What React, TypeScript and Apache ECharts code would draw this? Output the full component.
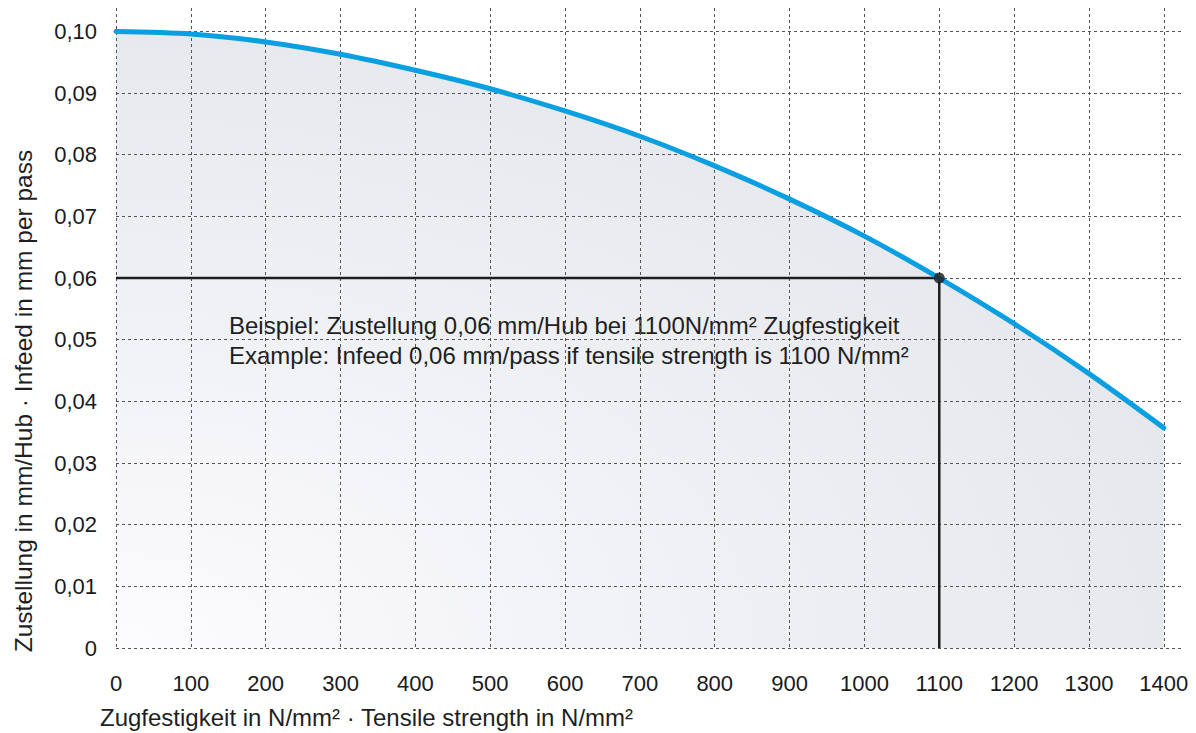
import React, { useEffect, useRef } from "react";
import * as echarts from "echarts";

const strength = [0, 100, 200, 300, 400, 500, 600, 700, 800, 900, 1000, 1100, 1200, 1300, 1400];
const infeed = [0.1, 0.0996, 0.0983, 0.0963, 0.0937, 0.0907, 0.0871, 0.083, 0.0782, 0.0728, 0.0668, 0.06, 0.0526, 0.0445, 0.0357];
const exampleX = 1100;
const exampleY = 0.06;
const xName = "Zugfestigkeit in N/mm² · Tensile strength in N/mm²";
const yName = "Zustellung in mm/Hub · Infeed in mm per pass";
const noteLines = [
  "Beispiel: Zustellung 0,06 mm/Hub bei 1100N/mm² Zugfestigkeit",
  "Example: Infeed 0,06 mm/pass if tensile strength is 1100 N/mm²",
];

const FONT = "'Liberation Sans', Arial, Helvetica, sans-serif";

export default function App() {
  const ref = useRef<HTMLDivElement>(null);
  useEffect(() => {
    if (!ref.current) return;
    const chart = echarts.init(ref.current, null, { renderer: "svg" });
    const curve = strength.map((x, i) => [x, infeed[i]]);
    const gridLine = {
      show: true,
      showMaxLine: false,
      lineStyle: { color: "#555555", width: 1, type: [3, 3] as any },
    };
    chart.setOption({
      animation: false,
      backgroundColor: "#ffffff",
      grid: { left: 116, right: 12, top: 8, bottom: 85, containLabel: false },
      xAxis: {
        type: "value",
        min: 0,
        max: 1427,
        interval: 100,
        axisLine: { show: false },
        axisTick: { show: false },
        splitLine: gridLine,
        axisLabel: {
          showMaxLabel: false,
          margin: 24,
          fontSize: 22,
          color: "#1a1a1a",
          fontFamily: FONT,
          formatter: (v: number) => String(v),
        },
      },
      yAxis: {
        type: "value",
        min: 0,
        max: 0.1038,
        interval: 0.01,
        axisLine: { show: false },
        axisTick: { show: false },
        splitLine: gridLine,
        axisLabel: {
          showMaxLabel: false,
          margin: 19,
          fontSize: 22,
          color: "#1a1a1a",
          fontFamily: FONT,
          formatter: (v: number) => (v === 0 ? "0" : v.toFixed(2).replace(".", ",")),
        },
      },
      series: [
        {
          type: "line",
          data: curve,
          smooth: 0.3,
          symbol: "none",
          z: -1,
          lineStyle: { width: 0 },
          areaStyle: {
            opacity: 1,
            color: new echarts.graphic.RadialGradient(0, 1, 1.1, [
              { offset: 0, color: "#fcfcfe" },
              { offset: 0.5, color: "#f0f1f5" },
              { offset: 1, color: "#e4e7eb" },
            ]),
          },
        },
        {
          type: "line",
          data: [
            [0, exampleY],
            [exampleX, exampleY],
            [exampleX, 0],
          ],
          symbol: "none",
          z: 3,
          lineStyle: { color: "#1e1e1e", width: 2.5 },
        },
        {
          type: "line",
          data: curve,
          smooth: 0.3,
          symbol: "none",
          z: 4,
          lineStyle: { color: "#0a9fe0", width: 5, cap: "round" },
        },
        {
          type: "scatter",
          data: [[exampleX, exampleY]],
          symbolSize: 11,
          z: 5,
          itemStyle: { color: "#1a1a1a" },
        },
      ],
      graphic: [
        {
          type: "text",
          left: 229,
          top: 310,
          style: {
            text: noteLines.join("\n"),
            fontSize: 24,
            lineHeight: 30,
            fill: "#1f1f1f",
            fontFamily: FONT,
          },
        },
        {
          type: "text",
          left: 100,
          top: 705,
          style: { text: xName, fontSize: 24, fill: "#1f1f1f", fontFamily: FONT },
        },
        {
          type: "text",
          x: 23,
          y: 401,
          rotation: Math.PI / 2,
          style: {
            text: yName,
            fontSize: 24.5,
            fill: "#1f1f1f",
            fontFamily: FONT,
            align: "center",
            verticalAlign: "middle",
          },
        },
      ],
    });
    return () => chart.dispose();
  }, []);
  return (
    <div
      ref={ref}
      style={{ position: "absolute", left: 0, top: 0, width: 1196, height: 733 }}
    />
  );
}
